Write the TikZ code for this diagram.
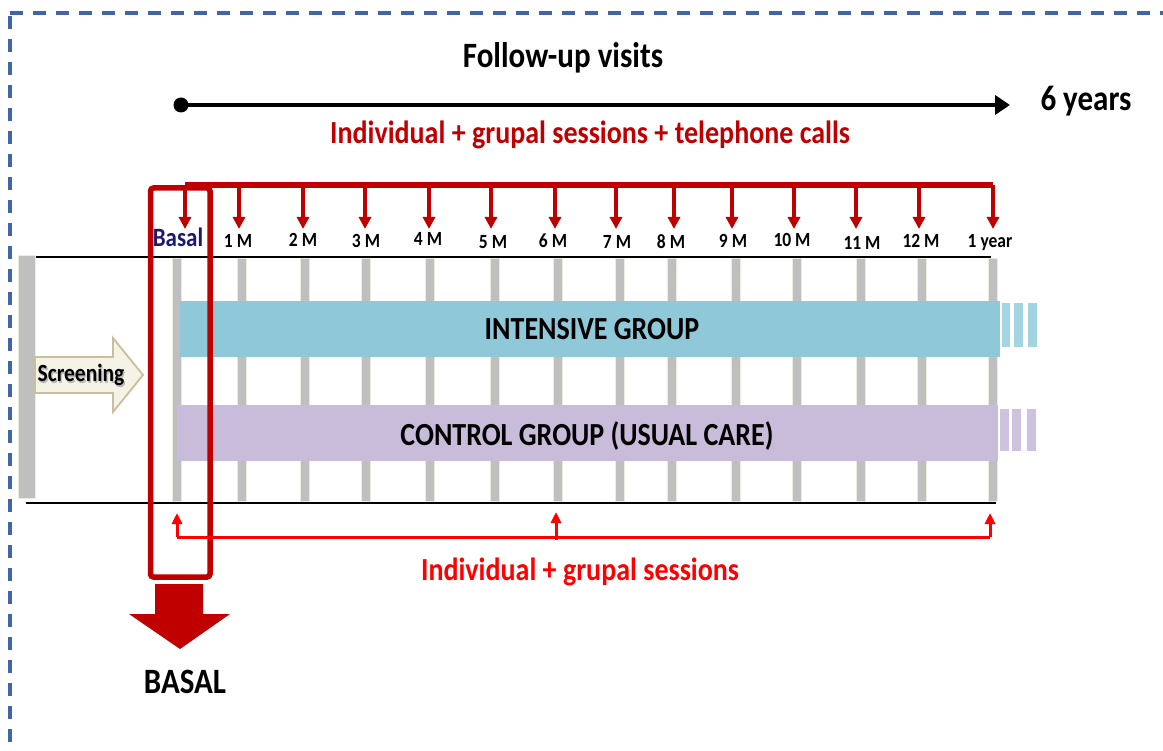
\documentclass[tikz,border=0pt]{standalone}
\usepackage{fontspec}
\setmainfont{Carlito}
\usetikzlibrary{arrows.meta}
\definecolor{dred}{HTML}{C00000}
\definecolor{bred}{HTML}{FF0000}
\definecolor{navy}{HTML}{1B1A6E}
\definecolor{bordblue}{HTML}{4066A8}
\definecolor{intcol}{HTML}{8FC8D9}
\definecolor{intdash}{HTML}{A2D5E1}
\definecolor{ctlcol}{HTML}{C8BCDA}
\definecolor{tickgray}{HTML}{BFBFBF}
\definecolor{tickedge}{HTML}{ECECE0}
\definecolor{scrfill}{HTML}{F5F2E6}
\definecolor{scredge}{HTML}{C9BF9E}
\newcommand\myfs[1]{\fontsize{#1}{#1}\selectfont}
\newcommand\ys[1]{\scalebox{1}[1.15]{#1}}
\begin{document}
\begin{tikzpicture}[x=1pt,y=-1pt,
  txt/.style={inner sep=0pt, anchor=base, font=\bfseries\myfs{#1}},
  border/.style={bordblue, line width=3.2pt, dash pattern=on 13pt off 10pt},
  tickbar/.style={fill=tickgray, draw=tickedge, line width=0.8pt},
  hline/.style={black, line width=2pt},
  bracket/.style={dred, line width=6pt},
  downarrow/.style={dred, line width=3.2pt, -{Triangle[width=12pt,length=12pt]}},
  uparrow/.style={bred, line width=3pt, -{Triangle[width=10pt,length=11pt]}},
  redline/.style={bred, line width=3pt}
]
\useasboundingbox (0,0) rectangle (1163,751);
% dashed frame
\draw[border] (10,13) -- (1163,13);
\draw[border] (10,16) -- (10,751);

% title and follow-up axis
\node[txt=31] (title) at (563,68) {\ys{Follow-up visits}};
\coordinate (axstart) at (181,105);
\coordinate (axend) at (1010,105);
\fill (axstart) circle (7.5pt);
\draw[line width=4.5pt, -{Triangle[width=19pt,length=15pt]}] (axstart) -- (axend);
\node[txt=31] (years) at (1086,111) {\ys{6 years}};
\node[txt=28, text=dred] (toplab) at (590,144) {\ys{Individual + grupal sessions + telephone calls}};

% horizontal rules
\coordinate (tl) at (35,257); \coordinate (tr) at (991,257);
\coordinate (bl) at (26,503); \coordinate (br) at (996,503);
\draw[hline] (tl) -- (tr);
\draw[hline] (bl) -- (br);

% screening gray bar
\draw[tickbar] (18,255) rectangle (35,498);

% ticks
\foreach \x in {177,242,305,366,430,495,558,620,672,736,797,861,922,993}{
  \draw[tickbar] (\x-4.5,258) rectangle (\x+4.5,501);
}

% group bars
\fill[intcol] (180,301) rectangle (1000,357);
\foreach \a/\b in {1002/1010,1014/1023,1028/1037}{\fill[intdash] (\a,303) rectangle (\b,347);}
\node[txt=28] (intg) at (592,340) {\ys{INTENSIVE GROUP}};
\fill[ctlcol] (177,405) rectangle (998,461);
\foreach \a/\b in {1000/1009,1012/1021,1027/1036}{\fill[ctlcol!90] (\a,409) rectangle (\b,451);}
\node[txt=28] (ctlg) at (587,446) {\ys{CONTROL GROUP (USUAL CARE)}};

% screening arrow
\draw[fill=scrfill, draw=scredge, line width=1.8pt, line join=miter]
  (35,357) -- (113,357) -- (113,338) -- (143,375) -- (113,412) -- (113,393) -- (35,393) -- cycle;
\node[txt=21.5, text=gray!55] at (82.3,383.3) {\ys{Screening}};
\node[txt=21.5] (scr) at (81,382) {\ys{Screening}};

% red bracket with arrows
\coordinate (a0) at (185,185);
\coordinate (e0) at (185,229);
\foreach \i/\x in {1/239,2/303,3/365,4/429,5/491,6/555,7/616,8/674,9/732,10/794,11/856,12/919,13/993}{
  \coordinate (a\i) at (\x,185);
  \coordinate (e\i) at (\x,229);
}
\draw[bracket] (a0) -- (a13);
\foreach \i in {0,...,13}{\draw[downarrow] (a\i) -- (e\i);}

% labels
\node[txt=23, text=navy] (m0) at (178,247) {\ys{Basal}};
\foreach \i/\x/\b/\t in {1/238/248/1 M,2/303/247/2 M,3/366/248/3 M,4/428/246/4 M,5/493/249/5 M,6/553/248/6 M,7/617/249/7 M,8/671/249/8 M,9/733/248/9 M,10/792/247/10 M,11/862/250/11 M,12/921/248/12 M,13/990/248/1 year}{
  \node[txt=17.5] (m\i) at (\x,\b) {\ys{\t}};
}

% basal red frame
\draw[dred, line width=5.5pt, rounded corners=3pt] (150.5,188) rectangle (210,577);

% bottom red arrows
\coordinate (u0) at (177,537); \coordinate (v0) at (177,513);
\coordinate (u1) at (556,540); \coordinate (v1) at (556,512);
\coordinate (u2) at (990,537); \coordinate (v2) at (990,513);
\draw[redline] (u0) -- (u2);
\draw[uparrow] (u0) -- (v0);
\draw[uparrow] (u1) -- (v1);
\draw[uparrow] (u2) -- (v2);
\node[txt=28, text=bred] (botlab) at (580,580) {\ys{Individual + grupal sessions}};

% big down arrow
\fill[dred] (155,584) -- (203,584) -- (203,614) -- (230,614) -- (180,649) -- (129,614) -- (155,614) -- cycle;
\node[txt=31] (basal) at (185,693) {\ys{BASAL}};
\end{tikzpicture}
\end{document}
